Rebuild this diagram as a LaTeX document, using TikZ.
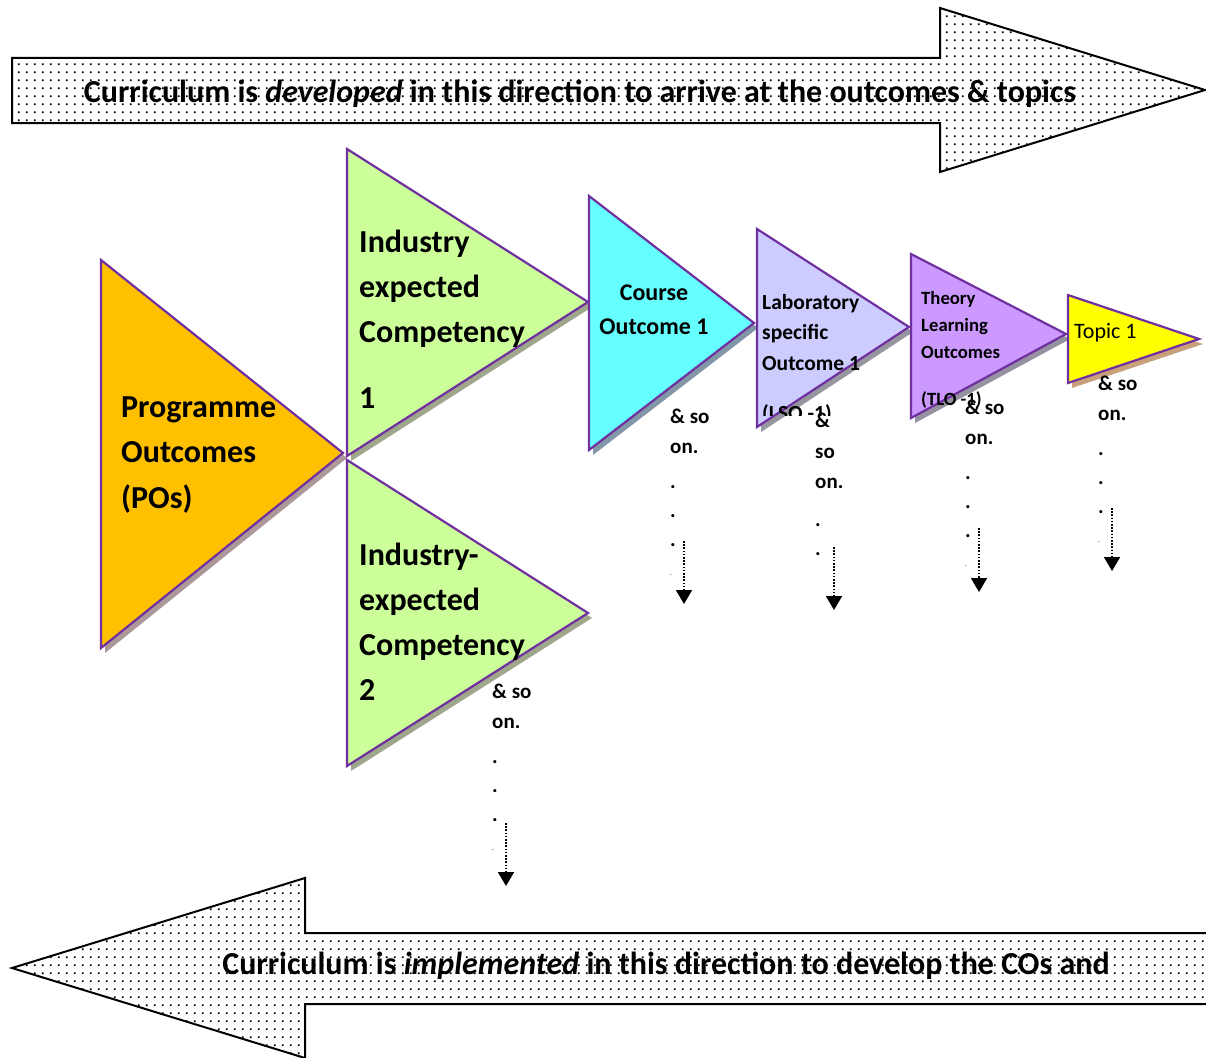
\documentclass[tikz,border=0pt]{standalone}
\usepackage{fontspec}
\setmainfont{Carlito}
\usetikzlibrary{arrows.meta,patterns.meta}

\definecolor{cOut}{HTML}{7030A0}
\definecolor{cPO}{HTML}{FFC000}
\definecolor{sPO}{RGB}{172,152,152}
\definecolor{cGreen}{HTML}{CCFF99}
\definecolor{sGreen}{RGB}{158,166,140}
\definecolor{cCyan}{HTML}{66FFFF}
\definecolor{sCyan}{RGB}{130,150,168}
\definecolor{cLav}{HTML}{CCCCFF}
\definecolor{sLav}{RGB}{150,150,160}
\definecolor{cPur}{HTML}{CC99FF}
\definecolor{sPur}{RGB}{150,145,160}
\definecolor{cYel}{HTML}{FFFF00}
\definecolor{sYel}{RGB}{200,160,122}

\tikzdeclarepattern{
  name=sparsedots,
  type=uncolored,
  bottom left={(0pt,0pt)},
  top right={(7.7pt,7.7pt)},
  tile size={(7.7pt,7.7pt)},
  code={\fill (2.9pt,2.9pt) rectangle (4.8pt,4.8pt);}
}

\begin{document}
\begin{tikzpicture}[x=1pt,y=-1pt,
  tri/.style={draw=cOut, line width=2.2pt, line join=miter},
  bigarrow/.style={draw=black, line width=2pt, pattern=sparsedots, pattern color=black, line join=miter},
  dotarr/.style={line width=1.8pt, dash pattern=on 1.6pt off 1.6pt, -{Triangle[width=16pt,length=14pt]}},
  tabbox/.style={anchor=base west, inner sep=0pt}]
\useasboundingbox (0,0) rectangle (1206,1057);
\clip (0,0) rectangle (1206,1057);

% top arrow
\draw[bigarrow] (12,58) -- (940,58) -- (940,8) -- (1205,90) -- (940,172) -- (940,123) -- (12,123) -- cycle;
\node[anchor=base, inner sep=0pt, font=\bfseries\fontsize{32}{36}\selectfont] (topText) at (580,102)
  {Curriculum is \textit{developed} in this direction to arrive at the outcomes \& topics};

% bottom arrow
\draw[bigarrow] (1215,933) -- (305,933) -- (305,878) -- (12,968) -- (305,1058) -- (305,1004) -- (1215,1004);
\begin{scope}
\clip (0,900) rectangle (1206,978);
\node[anchor=base, inner sep=0pt, font=\bfseries\fontsize{32}{36}\selectfont] (botText) at (666,974)
  {Curriculum is \textit{implemented} in this direction to develop the COs and};
\end{scope}

% triangles with shadows
\fill[sPO, shift={(4,5)}] (101,260) -- (343,453) -- (101,648) -- cycle;
\filldraw[tri, fill=cPO] (101,260) -- (343,453) -- (101,648) -- cycle;

\fill[sGreen, shift={(4,5)}] (347,149) -- (588,302) -- (347,456) -- cycle;
\filldraw[tri, fill=cGreen] (347,149) -- (588,302) -- (347,456) -- cycle;

\fill[sGreen, shift={(4,5)}] (347,460) -- (588,613) -- (347,766) -- cycle;
\filldraw[tri, fill=cGreen] (347,460) -- (588,613) -- (347,766) -- cycle;

\fill[sCyan, shift={(4,5)}] (589,196) -- (754,323) -- (589,450) -- cycle;
\filldraw[tri, fill=cCyan] (589,196) -- (754,323) -- (589,450) -- cycle;

\fill[sLav, shift={(4,5)}] (757,229) -- (909,327) -- (757,427) -- cycle;
\filldraw[tri, fill=cLav] (757,229) -- (909,327) -- (757,427) -- cycle;

\fill[sPur, shift={(4,5)}] (911,254) -- (1066,334) -- (911,418) -- cycle;
\filldraw[tri, fill=cPur] (911,254) -- (1066,334) -- (911,418) -- cycle;

\fill[sYel, shift={(4,5)}] (1068,295) -- (1199,339) -- (1068,383) -- cycle;
\filldraw[tri, fill=cYel] (1068,295) -- (1199,339) -- (1068,383) -- cycle;

% triangle texts
\node[tabbox, font=\bfseries\fontsize{32}{45.5}\selectfont] (poText) at (121,417)
  {\begin{tabular}[t]{@{}l@{}}Programme\\Outcomes\\(POs)\end{tabular}};
\node[tabbox, font=\bfseries\fontsize{32}{45}\selectfont] (iecA) at (359,252)
  {\begin{tabular}[t]{@{}l@{}}Industry\\expected\\Competency\\[21pt]1\end{tabular}};
\node[tabbox, font=\bfseries\fontsize{32}{45}\selectfont] (iecB) at (359,565)
  {\begin{tabular}[t]{@{}l@{}}Industry-\\expected\\Competency\\2\end{tabular}};
\node[anchor=base, inner sep=0pt, font=\bfseries\fontsize{24}{34}\selectfont] (coText) at (654,300)
  {\begin{tabular}[t]{@{}c@{}}Course\\Outcome 1\end{tabular}};
\begin{scope}
\clip (700,200) rectangle (905,415);
\node[tabbox, font=\bfseries\fontsize{21.5}{30.5}\selectfont] (lsoText) at (762,309)
  {\begin{tabular}[t]{@{}l@{}}Laboratory\\specific\\Outcome 1\\[20pt](LSO -1)\end{tabular}};
\end{scope}
\node[tabbox, font=\bfseries\fontsize{18.7}{27}\selectfont] (tloText) at (921,304)
  {\begin{tabular}[t]{@{}l@{}}Theory\\Learning\\Outcomes\\[20pt](TLO -1)\end{tabular}};
\node[tabbox, font=\fontsize{22}{25}\selectfont] (topicText) at (1074,338) {Topic 1};

% "& so on." columns
\node[tabbox, font=\bfseries\fontsize{21}{29}\selectfont] (soA) at (670,423)
  {\begin{tabular}[t]{@{}l@{}}\& so\\[1pt]on.\\[6pt].\\.\\.\\{\fontsize{6}{6}\selectfont .}\end{tabular}};
\node[tabbox, font=\bfseries\fontsize{21}{29}\selectfont] (soB) at (815,427)
  {\begin{tabular}[t]{@{}l@{}}\&\\[2pt]so\\[1pt]on.\\[9pt].\\.\end{tabular}};
\node[tabbox, font=\bfseries\fontsize{21}{29}\selectfont] (soC) at (965,414)
  {\begin{tabular}[t]{@{}l@{}}\& so\\[1pt]on.\\[6pt].\\.\\.\\{\fontsize{6}{6}\selectfont .}\end{tabular}};
\node[tabbox, font=\bfseries\fontsize{21}{29}\selectfont] (soD) at (1098,390)
  {\begin{tabular}[t]{@{}l@{}}\& so\\[1pt]on.\\[6pt].\\.\\.\\{\fontsize{6}{6}\selectfont .}\end{tabular}};
\node[tabbox, font=\bfseries\fontsize{21}{29}\selectfont] (soE) at (492,698)
  {\begin{tabular}[t]{@{}l@{}}\& so\\[1pt]on.\\[6pt].\\.\\.\\{\fontsize{6}{6}\selectfont .}\end{tabular}};

% dotted arrows
\coordinate (aS) at (684,541); \coordinate (aE) at (684,604);
\coordinate (bS) at (834,547); \coordinate (bE) at (834,610);
\coordinate (cS) at (979,528); \coordinate (cE) at (979,592);
\coordinate (dS) at (1112,508); \coordinate (dE) at (1112,571);
\coordinate (eS) at (506,823); \coordinate (eE) at (506,886);
\draw[dotarr] (aS) -- (aE);
\draw[dotarr] (bS) -- (bE);
\draw[dotarr] (cS) -- (cE);
\draw[dotarr] (dS) -- (dE);
\draw[dotarr] (eS) -- (eE);
\end{tikzpicture}
\end{document}
